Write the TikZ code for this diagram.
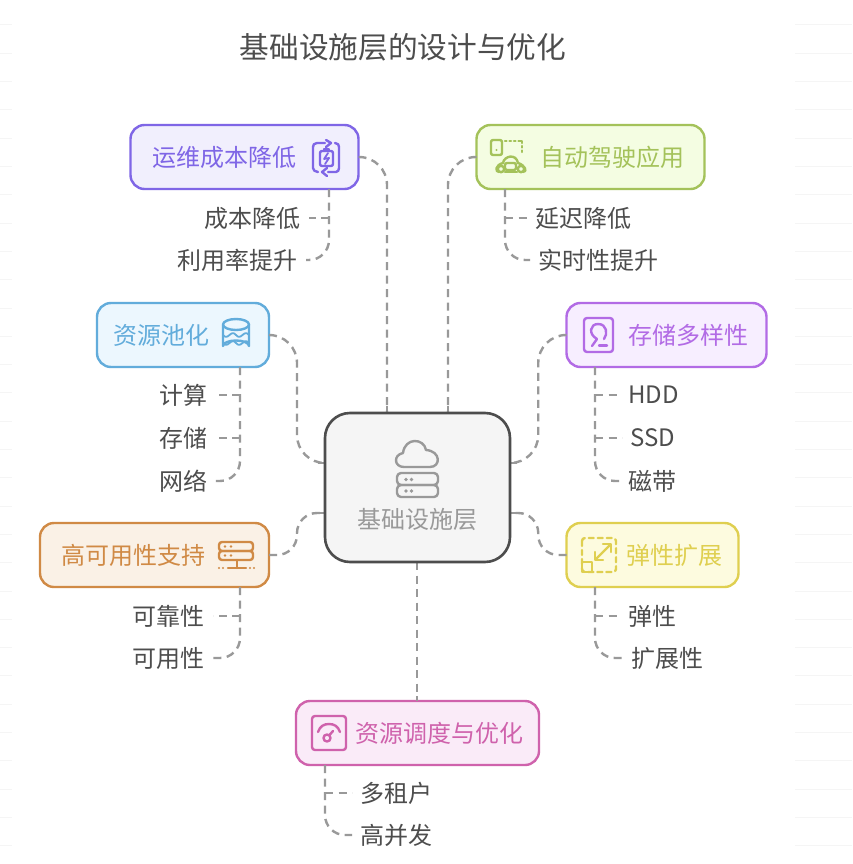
\documentclass[tikz,border=0pt]{standalone}
\usepackage{fontspec}
\setmainfont{Noto Sans CJK SC}
\usetikzlibrary{calc}
\definecolor{txt}{HTML}{4D4D4D}
\definecolor{lnk}{HTML}{999999}
\definecolor{opsS}{HTML}{7F66E6}\definecolor{opsF}{HTML}{F1EFFD}
\definecolor{autS}{HTML}{A4C25A}\definecolor{autF}{HTML}{F4FDE2}
\definecolor{poolS}{HTML}{62ACDB}\definecolor{poolF}{HTML}{ECF7FE}
\definecolor{stoS}{HTML}{B26BE5}\definecolor{stoF}{HTML}{F7EEFF}
\definecolor{haS}{HTML}{D08A45}\definecolor{haF}{HTML}{FAF1E6}
\definecolor{elaS}{HTML}{DFCF50}\definecolor{elaF}{HTML}{FDFBDF}
\definecolor{schS}{HTML}{CF62AC}\definecolor{schF}{HTML}{FAEBF8}
\tikzset{
  box/.style={draw=#1S,fill=#1F,line width=2.4pt,rounded corners=14pt,minimum height=64pt,outer sep=0pt,inner sep=0pt},
  lab/.style={text=#1S,font=\fontsize{24}{24}\selectfont,inner sep=0pt},
  leafE/.style={anchor=east,text=txt,font=\fontsize{24}{24}\selectfont,inner sep=0pt,inner xsep=8pt},
  leafW/.style={anchor=west,text=txt,font=\fontsize{24}{24}\selectfont,inner sep=0pt,inner xsep=8pt},
  link/.style={draw=lnk,line width=2.4pt,dash pattern=on 8pt off 5.5pt},
  stub/.style={draw=lnk,line width=2.4pt},
  mainlink/.style={link,rounded corners=28pt},
  sidelink/.style={link,rounded corners=20pt},
  icon/.style={draw=#1S,line width=2.4pt,line cap=round,line join=round},
  faint/.style={draw=black!4,line width=1pt},
}
\begin{document}
\begin{tikzpicture}[x=1pt,y=-1pt]
\useasboundingbox (0,0) rectangle (852,864);
\fill[white] (0,0) rectangle (852,864);
\foreach \k in {0,...,29}{
  \draw[faint] (0,25+28.3*\k) -- (12,25+28.3*\k);
  \draw[faint] (795,25+28.3*\k) -- (852,25+28.3*\k);
}
\node[text=txt,font=\fontsize{29.7}{30}\selectfont,inner sep=0pt] (title) at (403,47) {基础设施层的设计与优化};

% boxes
\node[box=ops,minimum width=228pt] (ops) at (244.5,157) {};
\node[lab=ops] (opsL) at (224,157) {运维成本降低};
\node[box=aut,minimum width=228pt] (aut) at (590.5,157) {};
\node[lab=aut] (autL) at (612,157) {自动驾驶应用};
\node[box=pool,minimum width=172pt] (pool) at (183,335) {};
\node[lab=pool] (poolL) at (161,335) {资源池化};
\node[box=sto,minimum width=200pt] (sto) at (666.5,335) {};
\node[lab=sto] (stoL) at (688,335) {存储多样性};
\node[box=ha,minimum width=229pt] (ha) at (154.5,555) {};
\node[lab=ha] (haL) at (133,555) {高可用性支持};
\node[box=ela,minimum width=172pt] (ela) at (652.5,555) {};
\node[lab=ela] (elaL) at (674,555) {弹性扩展};
\node[box=sch,minimum width=243pt] (sch) at (417.5,733) {};
\node[lab=sch] (schL) at (439,733) {资源调度与优化};

% leaves
\node[leafE] (a1) at (308.5,218) {成本降低};
\node[leafE] (a2) at (306,260) {利用率提升};
\node[leafW] (b1) at (527,218) {延迟降低};
\node[leafW] (b2) at (530,260) {实时性提升};
\node[leafE] (c1) at (215.5,395) {计算};
\node[leafE] (c2) at (215.5,438) {存储};
\node[leafE] (c3) at (215.5,481) {网络};
\node[leafW] (d1) at (620,395) {HDD};
\node[leafW] (d2) at (622,438) {SSD};
\node[leafW] (d3) at (620,481) {磁带};
\node[leafE] (e1) at (213,616) {可靠性};
\node[leafE] (e2) at (213,658) {可用性};
\node[leafW] (f1) at (620,616) {弹性};
\node[leafW] (f2) at (623,658) {扩展性};
\node[leafW] (g1) at (352,793) {多租户};
\node[leafW] (g2) at (352,835) {高并发};

% ends of the links on the centre box
\coordinate (cTA) at (387,413);\coordinate (cTB) at (448,413);
\coordinate (cLA) at (325,463);\coordinate (cLB) at (325,513);
\coordinate (cRA) at (510,463);\coordinate (cRB) at (510,513);
\coordinate (cBM) at (417,562);

% trunks
\coordinate (opsT) at (329,189);\coordinate (autT) at (505,189);
\coordinate (poolT) at (240,367);\coordinate (stoT) at (595,367);
\coordinate (haT) at (240,587);\coordinate (elaT) at (595,587);
\coordinate (schT) at (325,765);

% main links
\draw[mainlink] (ops.east) -- (cTA |- ops.east) -- (cTA);
\draw[mainlink] (aut.west) -- (cTB |- aut.west) -- (cTB);
\path ($(pool.east)!.5!(cLA)$) coordinate (m1) ($(sto.west)!.5!(cRA)$) coordinate (m2);
\draw[mainlink] (pool.east) -- (m1 |- pool.east) -- (m1) -- (m1 |- cLA) -- (cLA);
\draw[mainlink] (sto.west) -- (m2 |- sto.west) -- (m2) -- (m2 |- cRA) -- (cRA);
\path ($(ha.east)!.5!(cLB)$) coordinate (m3) ($(ela.west)!.5!(cRB)$) coordinate (m4);
\draw[link,rounded corners=20pt] (ha.east) -- (m3 |- ha.east) -- (m3 |- cLB) -- (cLB);
\draw[link,rounded corners=20pt] (ela.west) -- (m4 |- ela.west) -- (m4 |- cRB) -- (cRB);
\draw[link] (cBM) -- (cBM |- sch.north);
\draw[stub] (cTA) -- +(0,-7);
\draw[stub] (cTB) -- +(0,-7);
\draw[stub] (cLA) -- +(-7,0);
\draw[stub] (cLB) -- +(-7,0);
\draw[stub] (cRA) -- +(7,0);
\draw[stub] (cRB) -- +(7,0);
\draw[stub] (cBM |- sch.north) -- +(0,-5);

% side links
\draw[sidelink] (opsT) -- (opsT |- a2.east) -- (a2.east);
\draw[link] (opsT |- a1.east) -- (a1.east);
\draw[sidelink] (autT) -- (autT |- b2.west) -- (b2.west);
\draw[link] (autT |- b1.west) -- (b1.west);
\draw[sidelink] (poolT) -- (poolT |- c3.east) -- (c3.east);
\draw[link] (poolT |- c1.east) -- (c1.east);
\draw[link] (poolT |- c2.east) -- (c2.east);
\draw[sidelink] (stoT) -- (stoT |- d3.west) -- (d3.west);
\draw[link] (stoT |- d1.west) -- (d1.west);
\draw[link] (stoT |- d2.west) -- (d2.west);
\draw[sidelink] (haT) -- (haT |- e2.east) -- (e2.east);
\draw[link] (haT |- e1.east) -- (e1.east);
\draw[sidelink] (elaT) -- (elaT |- f2.west) -- (f2.west);
\draw[link] (elaT |- f1.west) -- (f1.west);
\draw[sidelink] (schT) -- (schT |- g2.west) -- (g2.west);
\draw[link] (schT |- g1.west) -- (g1.west);

% centre box, over the ends of the links
\node[draw=txt,fill=black!4,line width=2.6pt,rounded corners=25pt,minimum width=185pt,minimum height=149pt,outer sep=0pt,inner sep=0pt] (core) at (417.5,487.5) {};
\node[text=black!40,font=\fontsize{24}{24}\selectfont,inner sep=0pt] (coreL) at (417.5,519) {基础设施层};

% icon: centre
\begin{scope}[draw=black!40,line width=2.4pt,line join=round,line cap=round]
\draw (404,467) .. controls (394,467) and (393,455) .. (403,453) .. controls (405,437) and (424,438) .. (426,450) .. controls (441,451) and (441,467) .. (430,467) -- cycle;
\draw[rounded corners=4pt] (397,473) rectangle (438,485);
\draw[rounded corners=4pt] (397,485) rectangle (438,497);
\fill[black!40] (406,479.5) circle (1.8) (411.5,479.5) circle (1.8) (406,491) circle (1.8) (411.5,491) circle (1.8);
\end{scope}

% icon: ops
\begin{scope}[icon=ops]
\draw (325,143) -- (317,143) .. controls (314,143) and (313,145) .. (313,147) -- (313,168) .. controls (313,170) and (315,172) .. (318,172);
\draw (328,172) -- (336,172) .. controls (338,172) and (339,170) .. (339,168) -- (339,147) .. controls (339,145) and (338,143) .. (335,143);
\draw (326,147) -- (331,143) -- (326,140);
\draw (327,168) -- (322,172) -- (327,176);
\draw[rounded corners=2pt] (320,151) rectangle (333,166);
\draw (324,151) -- (324,149) -- (329,149) -- (329,151);
\draw[line width=1.8pt] (328,153) -- (324,159) -- (329,158) -- (325,164);
\end{scope}

% icon: aut
\begin{scope}[icon=aut]
\draw[rounded corners=2pt] (491,140) rectangle (502,155);
\fill[autS] (496.5,150) circle (1.2);
\draw[dash pattern=on 1.5pt off 3pt] (505,141) -- (520,141);
\draw (520,141) -- (522,141) -- (522,143);
\draw[dash pattern=on 1.5pt off 3pt] (522,146) -- (522,153);
\draw (499,172) .. controls (495,172) and (495,165) .. (503,163) .. controls (504,156) and (516,153) .. (518,163) .. controls (525,165) and (528,172) .. (523,172);
\draw (505,172) -- (517,172);
\draw (501,169) circle (3.2) (521,169) circle (3.2);
\draw[rounded corners=2pt] (505,163) rectangle (516,170);
\end{scope}

% icon: pool
\begin{scope}[icon=pool]
\draw (223,324.5) arc[start angle=180,end angle=-180,x radius=13,y radius=5.5];
\draw (223,324.5) -- (223,346) arc[start angle=180,end angle=360,x radius=13,y radius=5.5] -- (249,324.5);
\foreach \y in {335,343}{
  \draw[line width=1.8pt] (223,\y) .. controls (225,\y+2.5) and (227,\y+2.5) .. (229.5,\y) .. controls (232,\y-2.5) and (234,\y-2.5) .. (236,\y) .. controls (238,\y+2.5) and (240,\y+2.5) .. (242.5,\y) .. controls (245,\y-2.5) and (247,\y-2.5) .. (249,\y);
}
\end{scope}

% icon: sto
\begin{scope}[icon=sto]
\draw[rounded corners=3pt] (584,318) rectangle (613,352);
\draw (592,346) -- (597,339) .. controls (588,334) and (590,324) .. (598,324) .. controls (607,324) and (608,334) .. (604,339);
\draw (599,345.5) -- (607,345.5);
\end{scope}

% icon: ha
\begin{scope}[icon=ha]
\draw[rounded corners=3pt] (219,542) rectangle (253,551);
\draw[rounded corners=3pt] (219,551) rectangle (253,560);
\fill[haS] (225,546.5) circle (1.4) (231,546.5) circle (1.4) (225,555.5) circle (1.4) (231,555.5) circle (1.4);
\draw (237,560) -- (237,568);
\draw (228,568) -- (246,568);
\fill[haS] (219,568) circle (1.2) (223,568) circle (1.2) (250,568) circle (1.2) (254,568) circle (1.2);
\end{scope}

% icon: ela
\begin{scope}[icon=ela]
\draw[rounded corners=3pt,dash pattern=on 5pt off 4pt] (582,538) rectangle (616,572);
\draw[line width=2.6pt] (582,562) rectangle (592,572);
\draw (596,559) -- (610,545);
\draw (603,544) -- (611,544) -- (611,552);
\draw (595,552) -- (595,560) -- (603,560);
\end{scope}

% icon: sch
\begin{scope}[icon=sch]
\draw[rounded corners=3pt] (312,716) rectangle (346,750);
\draw (318,732) .. controls (320,726) and (324,724) .. (329,724) .. controls (334,724) and (338,726) .. (340,732);
\draw (327,738) circle (3.5);
\draw (329.5,735) -- (333,731);
\end{scope}
\end{tikzpicture}
\end{document}
